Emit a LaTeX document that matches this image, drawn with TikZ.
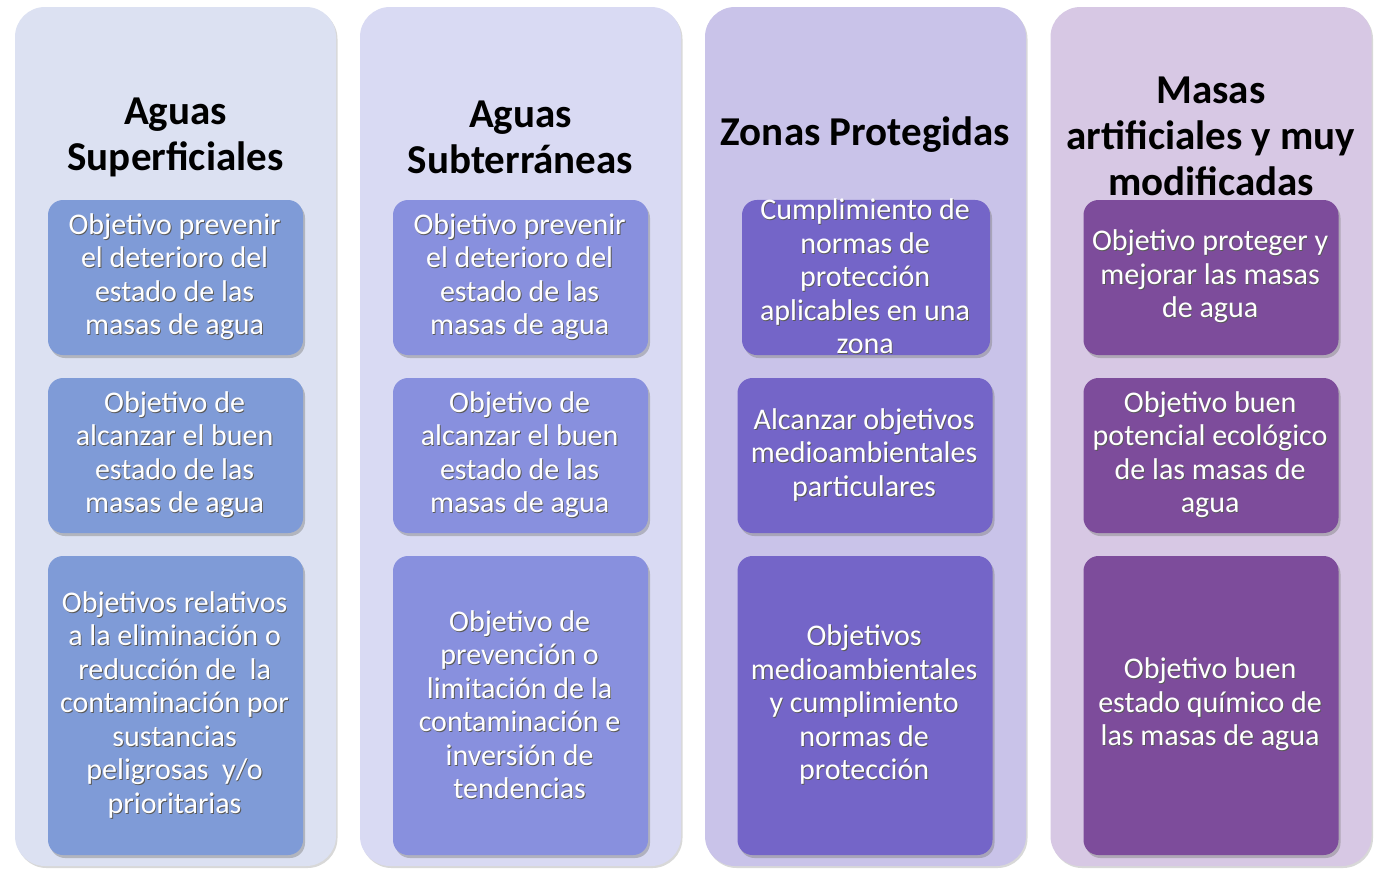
\documentclass[tikz,border=0pt]{standalone}
\usepackage{fontspec}
\setmainfont{Carlito}
\usetikzlibrary{shadows}

\definecolor{fondoA}{HTML}{DCE1F2}
\definecolor{fondoB}{HTML}{D9DAF3}
\definecolor{fondoC}{HTML}{C9C3E9}
\definecolor{fondoD}{HTML}{D7C8E4}
\definecolor{cajaA}{HTML}{7F9BD7}
\definecolor{cajaB}{HTML}{8890DE}
\definecolor{cajaC}{HTML}{7465C8}
\definecolor{cajaD}{HTML}{7D4C9B}

\tikzset{
  columna/.style={rounded corners=30pt, minimum width=321pt, minimum height=859pt,
    drop shadow={shadow xshift=1.5pt, shadow yshift=-2pt, opacity=.3}},
  titulo/.style={font=\bfseries\fontsize{41}{46}\selectfont, align=center},
  objbox/.style={rounded corners=15pt, minimum width=255pt, inner sep=0pt, align=center,
    font=\fontsize{30}{33.5}\selectfont, text=black!65,
    drop shadow={shadow xshift=2pt, shadow yshift=-3pt, opacity=.45}},
  objtexto/.style={inner sep=0pt, align=center, font=\fontsize{30}{33.5}\selectfont, text=white}
}

% name, x, y, height, look, text
\newcommand{\objetivo}[6]{%
  \node[objbox, #5, minimum height=#4pt] (#1) at (#2,#3) {#6};
  \node[objtexto] (#1t) at ([shift={(-0.9pt,0.9pt)}]#1.center) {#6};
}

\begin{document}
\begin{tikzpicture}[x=1pt,y=-1pt]
\fill[white] (0,0) rectangle (1375,870);
\useasboundingbox (0,0) rectangle (1375,870);
% columns
\node[columna, fill=fondoA] (colA) at (175.5,436.5) {};
\node[columna, fill=fondoB] (colB) at (520.5,436.5) {};
\node[columna, fill=fondoC] (colC) at (865.5,436.5) {};
\node[columna, fill=fondoD] (colD) at (1211,436.5) {};
% aguas superficiales
\node[titulo] (titA) at (175.5,137) {Aguas\\Superficiales};
\objetivo{a1}{175.5}{277.5}{155}{fill=cajaA}{Objetivo prevenir\\el deterioro del\\estado de las\\masas de agua}
\objetivo{a2}{175.5}{455.5}{155}{fill=cajaA}{Objetivo de\\alcanzar el buen\\estado de las\\masas de agua}
\objetivo{a3}{175.5}{705.5}{299}{fill=cajaA}{Objetivos relativos\\a la eliminación o\\reducción de\ \ la\\contaminación por\\sustancias\\peligrosas\ \ y/o\\prioritarias}
% aguas subterraneas
\node[titulo] (titB) at (520.5,137) {Aguas\\Subterráneas};
\objetivo{b1}{520.5}{277.5}{155}{fill=cajaB}{Objetivo prevenir\\el deterioro del\\estado de las\\masas de agua}
\objetivo{b2}{520.5}{455.5}{155}{fill=cajaB}{Objetivo de\\alcanzar el buen\\estado de las\\masas de agua}
\objetivo{b3}{520.5}{705.5}{299}{fill=cajaB}{Objetivo de\\prevención o\\limitación de la\\contaminación e\\inversión de\\tendencias}
% zonas protegidas
\node[titulo] (titC) at (865.5,135) {Zonas Protegidas};
\objetivo{c1}{866}{277.5}{155}{fill=cajaC, minimum width=248pt}{Cumplimiento de\\normas de\\protección\\aplicables en una\\zona}
\objetivo{c2}{865}{455.5}{155}{fill=cajaC}{Alcanzar objetivos\\medioambientales\\particulares}
\objetivo{c3}{865}{705.5}{299}{fill=cajaC}{Objetivos\\medioambientales\\y cumplimiento\\normas de\\protección}
% masas artificiales
\objetivo{d1}{1211}{277.5}{155}{fill=cajaD}{Objetivo proteger y\\mejorar las masas\\de agua}
\objetivo{d2}{1211}{455.5}{155}{fill=cajaD}{Objetivo buen\\potencial ecológico\\de las masas de\\agua}
\objetivo{d3}{1211}{705.5}{299}{fill=cajaD}{Objetivo buen\\estado químico de\\las masas de agua}
\node[titulo] (titD) at (1211,136) {Masas\\artificiales y muy\\modificadas};
\end{tikzpicture}
\end{document}
